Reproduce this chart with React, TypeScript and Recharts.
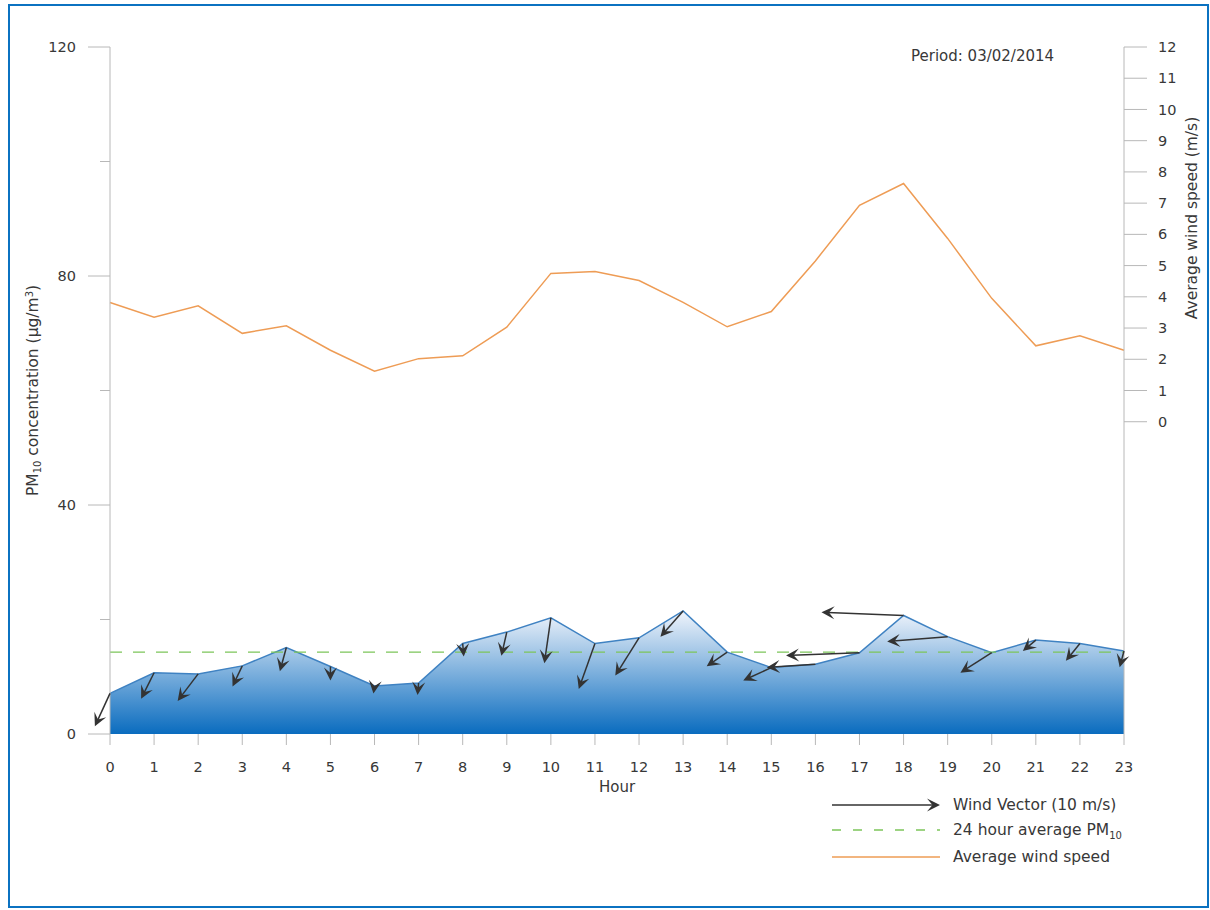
import {
  Area,
  ComposedChart,
  Line,
  ReferenceLine,
  Scatter,
  XAxis,
  YAxis,
} from "recharts"

// hourly values
const hours = [0, 1, 2, 3, 4, 5, 6, 7, 8, 9, 10, 11, 12, 13, 14, 15, 16, 17, 18, 19, 20, 21, 22, 23]
const pm10 = [7.1, 10.7, 10.5, 11.9, 15.1, 11.8, 8.4, 8.9, 15.8, 17.8, 20.3, 15.8, 16.8, 21.5, 14.3, 11.6, 12.2, 14.2, 20.7, 17.0, 14.2, 16.4, 15.8, 14.5]
const windSpeed = [3.82, 3.35, 3.71, 2.83, 3.07, 2.29, 1.62, 2.02, 2.11, 3.03, 4.75, 4.81, 4.52, 3.82, 3.04, 3.53, 5.15, 6.93, 7.63, 5.87, 3.95, 2.43, 2.75, 2.29]
// wind vector components (m/s), u = east, v = north
const windU = [-1.4, -1.2, -1.9, -0.9, -0.6, 0.0, -0.1, -0.1, 0.1, -0.5, -0.6, -1.5, -2.2, -2.1, -1.9, -2.6, -4.5, -6.8, -7.6, -5.6, -2.9, -1.2, -1.3, -0.4]
const windV = [-3.05, -2.4, -2.5, -1.9, -2.2, -1.3, -0.7, -1.1, -1.2, -2.2, -4.2, -4.2, -3.5, -2.4, -1.3, -1.2, -0.3, -0.25, 0.3, -0.45, -1.85, -1.0, -1.6, -1.5]

const pmTicks = [0, 20, 40, 60, 80, 100, 120]
const wsTicks = [0, 1, 2, 3, 4, 5, 6, 7, 8, 9, 10, 11, 12]

const FONT = "'DejaVu Sans', sans-serif"
const TEXT = "#383838"
const AXIS = "#b8b8b8"
const ORANGE = "#ee9c55"
const GREEN = "#7cc55a"
const AREA_STROKE = "#3f82c2"
const ARROW = "#333333"
const PX_PER_MS = 10.8 // legend arrow = 10 m/s

const rows = hours.map((h, i) => ({
  hour: h,
  pm: pm10[i],
  ws: windSpeed[i],
  u: windU[i],
  v: windV[i],
}))

const avgPm = pm10.reduce((a, b) => a + b, 0) / pm10.length

function Arrow({ x1, y1, x2, y2 }: { x1: number; y1: number; x2: number; y2: number }) {
  const ang = Math.atan2(y2 - y1, x2 - x1)
  const len = Math.hypot(x2 - x1, y2 - y1)
  const cut = Math.min(6, len)
  const ex = x2 - Math.cos(ang) * cut
  const ey = y2 - Math.sin(ang) * cut
  return (
    <g>
      <line x1={x1} y1={y1} x2={ex} y2={ey} stroke={ARROW} strokeWidth={1.5} />
      <path
        d="M0,0 L-13,-6.5 L-7.5,0 L-13,6.5 Z"
        transform={`translate(${x2},${y2}) rotate(${(ang * 180) / Math.PI})`}
        fill={ARROW}
      />
    </g>
  )
}

function WindArrow(props: any) {
  const { cx, cy, payload } = props
  if (cx == null || cy == null) return null
  return (
    <Arrow
      x1={cx}
      y1={cy}
      x2={cx + payload.u * PX_PER_MS}
      y2={cy - payload.v * PX_PER_MS}
    />
  )
}

function PmTick({ x, y, payload }: any) {
  const major = payload.value % 40 === 0
  const len = major ? 22 : 10
  return (
    <g>
      <line x1={x - len} y1={y} x2={x} y2={y} stroke={AXIS} />
      {major && (
        <text x={x - len - 12} y={y} dy="0.35em" textAnchor="end" fill={TEXT} fontSize={14.5} fontFamily={FONT}>
          {payload.value}
        </text>
      )}
    </g>
  )
}

function WsTick({ x, y, payload }: any) {
  return (
    <g>
      <line x1={x} y1={y} x2={x + 23} y2={y} stroke={AXIS} />
      <text x={x + 34} y={y} dy="0.35em" textAnchor="start" fill={TEXT} fontSize={14.5} fontFamily={FONT}>
        {payload.value}
      </text>
    </g>
  )
}

function PmAxisLabel(props: any) {
  const vb = props.viewBox || { x: 50, y: 47, width: 60, height: 687 }
  const cx = vb.x - 17
  const cy = vb.y + vb.height / 2
  return (
    <text
      x={cx}
      y={cy}
      transform={`rotate(-90 ${cx} ${cy})`}
      textAnchor="middle"
      dy="0.35em"
      fill={TEXT}
      fontSize={15.5}
      fontFamily={FONT}
    >
      PM<tspan fontSize={10} dy={3}>10</tspan>
      <tspan dy={-3}> concentration (µg/m</tspan>
      <tspan fontSize={10} dy={-5}>3</tspan>
      <tspan dy={5}>)</tspan>
    </text>
  )
}

function WsAxisLabel(props: any) {
  const vb = props.viewBox || { x: 1124, y: 47, width: 60, height: 687 }
  const cx = vb.x + 68
  const cy = vb.y + 171
  return (
    <text
      x={cx}
      y={cy}
      transform={`rotate(-90 ${cx} ${cy})`}
      textAnchor="middle"
      dy="0.35em"
      fill={TEXT}
      fontSize={15.5}
      fontFamily={FONT}
    >
      Average wind speed (m/s)
    </text>
  )
}

function HourLabel(props: any) {
  const vb = props.viewBox || { x: 110, y: 734, width: 1014, height: 40 }
  return (
    <text x={vb.x + vb.width / 2} y={vb.y + 58} textAnchor="middle" fill={TEXT} fontSize={15} fontFamily={FONT}>
      Hour
    </text>
  )
}

function LegendBox() {
  const x0 = 832
  const x1 = x0 + 10 * PX_PER_MS
  const tx = 953
  const fs = 15.5
  return (
    <svg
      width={1210}
      height={910}
      style={{ position: "absolute", left: 0, top: 0, pointerEvents: "none" }}
    >
      <text x={911} y={56} dy="0.35em" fill={TEXT} fontSize={15} fontFamily={FONT}>
        Period: 03/02/2014
      </text>
      <Arrow x1={x0} y1={805} x2={x1} y2={805} />
      <text x={tx} y={805} dy="0.35em" fill={TEXT} fontSize={fs} fontFamily={FONT}>
        Wind Vector (10 m/s)
      </text>
      <line x1={x0} y1={830} x2={x1} y2={830} stroke={GREEN} strokeWidth={1.3} strokeDasharray="9 12" />
      <text x={tx} y={830} dy="0.35em" fill={TEXT} fontSize={fs} fontFamily={FONT}>
        24 hour average PM<tspan fontSize={10} dy={4}>10</tspan>
      </text>
      <line x1={x0} y1={857} x2={x1} y2={857} stroke={ORANGE} strokeWidth={1.5} />
      <text x={tx} y={857} dy="0.35em" fill={TEXT} fontSize={fs} fontFamily={FONT}>
        Average wind speed
      </text>
    </svg>
  )
}

export default function App() {
  return (
    <div style={{ position: "absolute", left: 0, top: 0, width: 1210, height: 910, background: "#fff" }}>
      <ComposedChart
        width={1210}
        height={910}
        data={rows}
        margin={{ top: 47, right: 26, bottom: 136, left: 50 }}
      >
        <defs>
          <linearGradient id="pmFill" x1="0" y1="0" x2="0" y2="1">
            <stop offset="0%" stopColor="#f0f4fb" />
            <stop offset="100%" stopColor="#0a6cbf" />
          </linearGradient>
        </defs>
        <XAxis
          dataKey="hour"
          type="number"
          domain={[0, 23]}
          ticks={hours}
          interval={0}
          height={40}
          axisLine={false}
          tickSize={11}
          tickMargin={17}
          tickLine={{ stroke: AXIS }}
          tick={{ fill: TEXT, fontSize: 14.5, fontFamily: FONT }}
          label={HourLabel}
        />
        <YAxis
          yAxisId="pm"
          domain={[0, 120]}
          ticks={pmTicks}
          interval={0}
          width={60}
          tickSize={0}
          tickMargin={0}
          tickLine={false}
          axisLine={{ stroke: AXIS }}
          tick={<PmTick />}
          label={PmAxisLabel}
        />
        <YAxis
          yAxisId="ws"
          orientation="right"
          domain={[-10, 12]}
          ticks={wsTicks}
          interval={0}
          width={60}
          tickSize={0}
          tickMargin={0}
          tickLine={false}
          axisLine={{ stroke: AXIS }}
          tick={<WsTick />}
          label={WsAxisLabel}
        />
        <Area
          yAxisId="pm"
          type="linear"
          dataKey="pm"
          stroke={AREA_STROKE}
          strokeWidth={1.5}
          fill="url(#pmFill)"
          fillOpacity={1}
          dot={false}
          activeDot={false}
          isAnimationActive={false}
        />
        <ReferenceLine
          yAxisId="pm"
          y={avgPm}
          stroke={GREEN}
          strokeWidth={1.3}
          strokeDasharray="12 11"
        />
        <Line
          yAxisId="ws"
          type="linear"
          dataKey="ws"
          stroke={ORANGE}
          strokeWidth={1.5}
          dot={false}
          activeDot={false}
          isAnimationActive={false}
        />
        <Scatter yAxisId="pm" dataKey="pm" shape={WindArrow} isAnimationActive={false} />
      </ComposedChart>
      <LegendBox />
      <div
        style={{
          position: "absolute",
          left: 8,
          top: 4,
          width: 1197,
          height: 900,
          border: "2px solid #0b72c1",
          pointerEvents: "none",
        }}
      />
    </div>
  )
}
